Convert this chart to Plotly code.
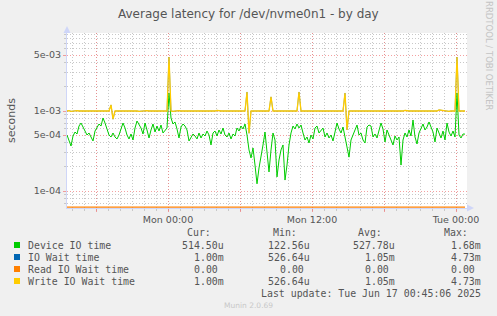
import plotly.graph_objects as go
import pandas as pd

# ---------------- data ----------------
times = pd.date_range("2025-06-15 15:35", periods=200, freq="10min")

device_us = [
    501, 434, 365, 487, 546, 516, 649, 708, 631, 562,
    501, 531, 473, 422, 562, 631, 688, 649, 818, 708,
    613, 501, 473, 531, 473, 447, 501, 579, 708, 613,
    501, 447, 516, 434, 613, 750, 688, 613, 516, 708,
    579, 460, 579, 688, 546, 649, 562, 668, 531, 562,
    613, 1680, 818, 688, 729, 596, 460, 631, 688, 649,
    579, 422, 473, 516, 487, 447, 531, 460, 516, 487,
    562, 501, 376, 531, 562, 487, 579, 516, 613, 501,
    473, 531, 447, 516, 487, 613, 562, 649, 596, 688,
    501, 326, 259, 345, 211, 123, 194, 259, 376, 546,
    282, 173, 326, 531, 434, 150, 244, 326, 376, 137,
    211, 376, 531, 649, 596, 688, 613, 668, 531, 434,
    473, 398, 501, 447, 613, 649, 531, 579, 613, 473,
    531, 460, 501, 422, 579, 708, 596, 531, 631, 460,
    326, 265, 434, 516, 579, 668, 501, 531, 434, 398,
    631, 668, 649, 473, 516, 460, 579, 708, 596, 410,
    579, 501, 410, 376, 487, 434, 473, 211, 434, 531,
    473, 579, 487, 772, 473, 387, 531, 613, 688, 579,
    631, 729, 613, 546, 410, 613, 531, 460, 562, 434,
    708, 546, 487, 562, 473, 1680, 501, 460, 516, 514,
]

write_us = [
    1000, 1010, 990, 1000, 1000, 1010, 1000, 990, 1000, 1000,
    1000, 1000, 1010, 1000, 1000, 990, 1000, 1000, 1000, 1010,
    1000, 1000, 1190, 790, 1000, 1000, 1000, 1010, 1000, 1000,
    1000, 1000, 1000, 1020, 1000, 1000, 990, 1000, 1000, 1000,
    1010, 1000, 1000, 1000, 990, 1000, 1000, 1000, 1010, 1000,
    1000, 4730, 1000, 990, 1000, 1000, 1010, 1000, 1000, 1000,
    1000, 1000, 1000, 1010, 1000, 1000, 1000, 990, 1000, 1000,
    1010, 1000, 1000, 1000, 1000, 1020, 1000, 1000, 1000, 1000,
    1000, 990, 1000, 1000, 1010, 1000, 1000, 1000, 1000, 1000,
    1730, 527, 1000, 1000, 990, 1000, 1000, 1010, 1000, 1000,
    1000, 1000, 1500, 1000, 1000, 1000, 990, 1000, 1000, 1000,
    1010, 1000, 1000, 1000, 1000, 1000, 1730, 1000, 1000, 1000,
    1000, 990, 1000, 1000, 1000, 1010, 1000, 1000, 1000, 990,
    1000, 1000, 1000, 1000, 1010, 1000, 1000, 1000, 1000, 1680,
    580, 1000, 1000, 1000, 1000, 990, 1000, 1000, 1000, 1000,
    1000, 1000, 1010, 1000, 1000, 1000, 1000, 1000, 990, 1000,
    1000, 1000, 1000, 1000, 1000, 1000, 1010, 1000, 1000, 1020,
    1000, 1000, 1000, 1000, 990, 1000, 1000, 1000, 1000, 1000,
    1000, 1010, 1000, 1000, 1000, 1000, 1030, 1020, 1000, 1000,
    1000, 990, 1000, 1000, 1000, 4730, 1000, 1000, 1000, 1000,
]

iowait_us = list(write_us)          # IO wait equals write wait (identical stats)
read_us = [0] * len(device_us)      # no read waits

series_names = ["Device IO time", "IO Wait time", "Read IO Wait time", "Write IO Wait time"]
series_colors = ["#00CC00", "#0066B3", "#FF8000", "#FFCC00"]
cur_txt = ["514.50u", "1.00m", "0.00", "1.00m"]
min_txt = ["122.56u", "526.64u", "0.00", "526.64u"]
avg_txt = ["527.78u", "1.05m", "0.00", "1.05m"]
max_txt = ["1.68m", "4.73m", "0.00", "4.73m"]

y_tick_vals = [1e-4, 5e-4, 1e-3, 5e-3]
y_tick_text = ["1e-04", "5e-04", "1e-03", "5e-03"]
y_minor_vals = [7e-5, 8e-5, 9e-5, 2e-4, 3e-4, 4e-4, 6e-4, 7e-4, 8e-4, 9e-4,
                2e-3, 3e-3, 4e-3, 6e-3, 7e-3, 8e-3, 9e-3]
x_tick_vals = ["2025-06-15 18:00", "2025-06-16 00:00", "2025-06-16 06:00",
               "2025-06-16 12:00", "2025-06-16 18:00", "2025-06-17 00:00"]
x_tick_text = ["", "Mon 00:00", "", "Mon 12:00", "", "Tue 00:00"]

# ---------------- layout geometry ----------------
W, H = 497, 316
L, R, T, B = 67, 30, 33, 108
PW, PH = W - L - R, H - T - B
y_range = [-4.2125, -2.025]
x_range = ["2025-06-15 15:35", "2025-06-17 00:55"]


def px(x):
    return (x - L) / PW


def py(y):
    return (H - B - y) / PH


MAJOR = "rgba(240,120,120,0.7)"
MINOR = "rgba(190,190,190,0.85)"
DASH = "1px,2px"
AXIS = "#CFD6F8"
TXT = "#555555"

fig = go.Figure()
floor_val = 10 ** (y_range[0] + 0.011)
all_series = [device_us, iowait_us, read_us, write_us]
widths = [1, 0.6, 1.2, 1.3]
for name, col, vals, w in zip(series_names, series_colors, all_series, widths):
    yv = [max(v * 1e-6, floor_val) for v in vals]
    fig.add_trace(go.Scatter(x=times, y=yv, mode="lines", name=name,
                             line=dict(color=col, width=w), hoverinfo="skip"))

fig.update_layout(
    width=W, height=H,
    margin=dict(l=L, r=R, t=T, b=B),
    paper_bgcolor="#F0F0F0", plot_bgcolor="#FFFFFF",
    showlegend=False,
    font=dict(family="DejaVu Sans", color=TXT),
    xaxis=dict(
        type="date", range=x_range,
        tickmode="array", tickvals=x_tick_vals, ticktext=x_tick_text,
        showgrid=True, gridcolor=MAJOR, griddash=DASH, gridwidth=1,
        ticks="outside", ticklen=3, tickcolor=MAJOR,
        tickfont=dict(size=9.5, color=TXT, family="DejaVu Sans"),
        minor=dict(dtick=3600000, tick0="2025-06-15 00:00", showgrid=True,
                   gridcolor=MINOR, griddash=DASH, ticks="outside", ticklen=2,
                   tickcolor="#C8C8C8"),
        showline=True, linecolor=AXIS, linewidth=1, zeroline=False,
        layer="below traces", fixedrange=True,
    ),
    yaxis=dict(
        type="log", range=y_range,
        tickmode="array", tickvals=y_tick_vals, ticktext=y_tick_text,
        showgrid=True, gridcolor=MAJOR, griddash=DASH, gridwidth=1,
        ticks="outside", ticklen=3, tickcolor=MAJOR,
        tickfont=dict(size=9.5, color=TXT, family="DejaVu Sans"),
        minor=dict(tickmode="array", tickvals=y_minor_vals, showgrid=True,
                   gridcolor=MINOR, griddash=DASH, ticks="outside", ticklen=2,
                   tickcolor="#C8C8C8"),
        showline=True, linecolor=AXIS, linewidth=1, zeroline=False,
        layer="below traces", fixedrange=True,
    ),
)

ann = []
ann.append(dict(x=px(248), y=py(14), xref="paper", yref="paper", showarrow=False,
                text="Average latency for /dev/nvme0n1 - by day",
                font=dict(size=12, color=TXT, family="DejaVu Sans"),
                xanchor="center", yanchor="middle"))
ann.append(dict(x=px(11), y=py(120), xref="paper", yref="paper", showarrow=False,
                text="seconds", textangle=-90,
                font=dict(size=11, color=TXT, family="DejaVu Sans"),
                xanchor="center", yanchor="middle"))
ann.append(dict(x=px(489), y=py(56), xref="paper", yref="paper", showarrow=False,
                text="RRDTOOL / TOBI OETIKER", textangle=90,
                font=dict(size=8.5, color="#C4C4C4", family="DejaVu Sans"),
                xanchor="center", yanchor="middle"))

MONO = "DejaVu Sans Mono"
FS = 9.9
col_right = [226, 311.7, 396.7, 482.7]
headers = ["Cur:", "Min:", "Avg:", "Max:"]
for cx, hd in zip(col_right, headers):
    ann.append(dict(x=px(cx - 12.7), y=py(232), xref="paper", yref="paper",
                    showarrow=False, text=hd, xanchor="right", yanchor="middle",
                    font=dict(size=FS, color=TXT, family=MONO)))

row_y = [245, 257, 269, 281]
shapes = []
for i, name in enumerate(series_names):
    ry = row_y[i]
    shapes.append(dict(type="rect", xref="paper", yref="paper",
                       x0=px(14), x1=px(20), y0=py(ry + 3), y1=py(ry - 3),
                       fillcolor=series_colors[i], line=dict(width=0)))
    ann.append(dict(x=px(26), y=py(ry), xref="paper", yref="paper", showarrow=False,
                    text=name, xanchor="left", yanchor="middle",
                    font=dict(size=FS, color=TXT, family=MONO)))
    for cx, col in zip(col_right, [cur_txt, min_txt, avg_txt, max_txt]):
        t = col[i]
        shift = 0 if t[-1] in "umkMn" else 6
        ann.append(dict(x=px(cx - shift), y=py(ry), xref="paper", yref="paper",
                        showarrow=False, text=t, xanchor="right", yanchor="middle",
                        font=dict(size=FS, color=TXT, family=MONO)))

ann.append(dict(x=px(482.5), y=py(293), xref="paper", yref="paper", showarrow=False,
                text="Last update: Tue Jun 17 00:45:06 2025", xanchor="right",
                yanchor="middle", font=dict(size=FS, color=TXT, family=MONO)))
ann.append(dict(x=px(248), y=py(305), xref="paper", yref="paper", showarrow=False,
                text="Munin 2.0.69", xanchor="center", yanchor="middle",
                font=dict(size=7.5, color="#C8C8C8", family="DejaVu Sans")))

shapes.append(dict(type="path", xref="paper", yref="paper",
                   path=f"M {px(63.5)},{py(33)} L {px(70.5)},{py(33)} L {px(67)},{py(26)} Z",
                   fillcolor=AXIS, line=dict(width=0)))
shapes.append(dict(type="path", xref="paper", yref="paper",
                   path=f"M {px(467)},{py(204.5)} L {px(467)},{py(211.5)} L {px(474)},{py(208)} Z",
                   fillcolor=AXIS, line=dict(width=0)))

fig.update_layout(annotations=ann, shapes=shapes)
fig.write_html("out.html", config={"displayModeBar": False})
